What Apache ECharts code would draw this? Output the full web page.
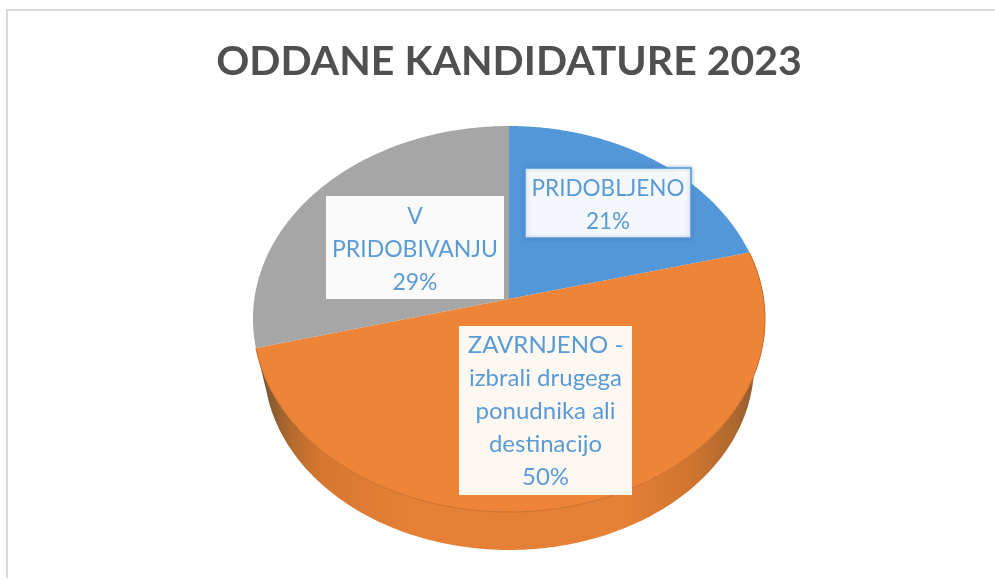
<!DOCTYPE html>
<html>
<head>
<meta charset="utf-8">
<style>html,body{margin:0;padding:0;background:#fff}#c{width:995px;height:581px}</style>
<script src="https://cdn.jsdelivr.net/npm/echarts@6/dist/echarts.min.js"></script>
</head>
<body>
<div id="c"></div>
<script>
const titleText = 'ODDANE KANDIDATURE 2023';
const categories = ['PRIDOBLJENO', 'ZAVRNJENO -\nizbrali drugega\nponudnika ali\ndestinacijo', 'V\nPRIDOBIVANJU'];
const shares = [21, 50, 29];
const colors = ['#5397D8', '#EE8438', '#A6A6A6'];
const labelBoxes = [[525, 168, 166, 70], [459, 326, 173, 169], [326, 196, 178, 103]];
const labelSizes = [22.5, 24, 23];
const labelShift = [2, 1, 2];

const TOP = {cx: 509, cy: 319, rx: 256, ry: 193};
const BASE = {cx: 509, cy: 365, rx: 245, ry: 185};
const VERTEX = [509, 299];
const total = shares.reduce((a, b) => a + b, 0);

function rimPoint(theta) {
  const dx = Math.sin(theta) * TOP.rx, dy = -Math.cos(theta) * TOP.ry;
  const ox = (VERTEX[0] - TOP.cx) / TOP.rx, oy = (VERTEX[1] - TOP.cy) / TOP.ry;
  const ux = dx / TOP.rx, uy = dy / TOP.ry;
  const a = ux * ux + uy * uy, b = 2 * (ox * ux + oy * uy), c = ox * ox + oy * oy - 1;
  const s = (-b + Math.sqrt(b * b - 4 * a * c)) / (2 * a);
  return [VERTEX[0] + s * dx, VERTEX[1] + s * dy];
}
function basePoint(p) {
  const sx = (p[0] - TOP.cx) / TOP.rx, sy = (p[1] - TOP.cy) / TOP.ry;
  return [BASE.cx + sx * BASE.rx, BASE.cy + sy * BASE.ry];
}

function renderItem(params, api) {
  const i = params.dataIndex;
  const before = shares.slice(0, i).reduce((a, b) => a + b, 0);
  const start = before / total * Math.PI * 2;
  const end = (before + api.value(0)) / total * Math.PI * 2;
  const rim = [];
  const n = 160;
  for (let k = 0; k <= n; k++) rim.push(rimPoint(start + (end - start) * k / n));
  const children = [];
  if (start < Math.PI && end > Math.PI) {
    const side = rim.concat(rim.map(basePoint).reverse());
    children.push({
      type: 'polygon', z2: 1,
      shape: {points: side},
      style: {fill: new echarts.graphic.LinearGradient(0, 0, 1, 0, [
        {offset: 0, color: '#6e5035'},
        {offset: 0.03, color: '#8a5c30'},
        {offset: 0.07, color: '#b56a2e'},
        {offset: 0.13, color: '#d8772f'},
        {offset: 0.3, color: '#e68036'},
        {offset: 0.72, color: '#e68036'},
        {offset: 0.86, color: '#cf742f'},
        {offset: 0.95, color: '#a8662f'},
        {offset: 1, color: '#7c5532'}
      ])}
    });
    children.push({
      type: 'polyline', z2: 3,
      shape: {points: rim},
      style: {fill: 'none', stroke: '#c96d2a', lineWidth: 1}
    });
  }
  children.push({
    type: 'polygon', z2: 2,
    shape: {points: [VERTEX].concat(rim)},
    style: {fill: colors[i]}
  });
  const box = labelBoxes[i];
  children.push({
    type: 'rect', z2: 10,
    shape: {x: box[0], y: box[1], width: box[2], height: box[3]},
    style: {fill: 'rgba(255,255,255,0.94)', stroke: i === 0 ? '#5397D8' : null, lineWidth: i === 0 ? 1.5 : 0,
      shadowBlur: i === 0 ? 4 : 0, shadowColor: 'rgba(60,110,170,0.5)'}
  });
  children.push({
    type: 'text', z2: 11,
    style: {
      x: box[0] + box[2] / 2, y: box[1] + box[3] / 2 + labelShift[i],
      text: categories[i] + '\n' + Math.round(api.value(0) / total * 100) + '%',
      align: 'center', verticalAlign: 'middle',
      fontFamily: 'Lato', fontSize: labelSizes[i], lineHeight: 33, fill: '#5B9BD5'
    }
  });
  return {type: 'group', children};
}

const chart = echarts.init(document.getElementById('c'), null, {renderer: 'canvas', width: 995, height: 581});
chart.setOption({
  animation: false,
  backgroundColor: '#ffffff',
  title: {
    text: titleText, left: 504, top: 36, textAlign: 'center',
    textStyle: {fontFamily: 'Lato', fontWeight: 'bold', fontSize: 41, color: '#505050'}
  },
  graphic: [{
    type: 'polyline', z: -1, silent: true,
    shape: {points: [[7, 578], [7, 10], [995, 10]]},
    style: {fill: 'none', stroke: '#d9d9d9', lineWidth: 2}
  }],
  series: [{
    type: 'custom',
    coordinateSystem: 'none',
    renderItem: renderItem,
    data: shares.map((v, i) => ({value: [v], name: categories[i]}))
  }]
});
</script>
</body>
</html>
